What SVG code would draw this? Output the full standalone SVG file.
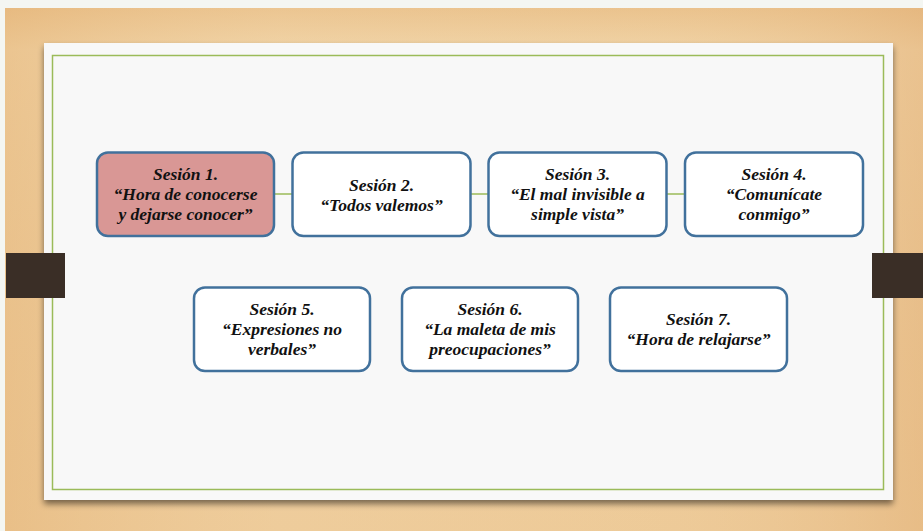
<svg xmlns="http://www.w3.org/2000/svg" width="923" height="531" viewBox="0 0 923 531">
<defs>
<linearGradient id="wood" x1="0" y1="0" x2="0" y2="1">
<stop offset="0" stop-color="#E8BD85"/>
<stop offset="0.08" stop-color="#F0D2A4"/>
<stop offset="0.5" stop-color="#EDCB9A"/>
<stop offset="1" stop-color="#ECC793"/>
</linearGradient>
<linearGradient id="woodh" x1="0" y1="0" x2="1" y2="0">
<stop offset="0" stop-color="#E6B77C" stop-opacity="0.5"/>
<stop offset="0.3" stop-color="#F3D8AE" stop-opacity="0.3"/>
<stop offset="0.7" stop-color="#F3D8AE" stop-opacity="0.2"/>
<stop offset="1" stop-color="#E3B27A" stop-opacity="0.5"/>
</linearGradient>
<filter id="shadow" x="-5%" y="-5%" width="110%" height="115%">
<feGaussianBlur in="SourceAlpha" stdDeviation="3"/>
<feOffset dx="0" dy="4" result="b"/>
<feComponentTransfer><feFuncA type="linear" slope="0.5"/></feComponentTransfer>
<feMerge><feMergeNode/><feMergeNode in="SourceGraphic"/></feMerge>
</filter>
</defs>
<style>
.node{fill:#FFFFFF;stroke:#41719C;stroke-width:2.5}
.hl{fill:#D99795}
.t{font-family:"Liberation Serif",serif;font-weight:bold;font-style:italic;font-size:17.5px;fill:#111;text-anchor:middle}
.conn{stroke:#9BBB59;stroke-width:1.5}
</style>
<rect x="0" y="0" width="923" height="531" fill="#F4F6F2"/>
<rect x="5" y="8" width="918" height="523" fill="url(#wood)"/>
<rect x="5" y="8" width="918" height="523" fill="url(#woodh)"/>
<rect x="44" y="43" width="849" height="457" fill="#F8F8F8" filter="url(#shadow)"/>
<rect x="52.5" y="55.5" width="831" height="434" fill="none" stroke="#9BBB59" stroke-width="1.5"/>
<rect x="6" y="253" width="59" height="45" fill="#3A2E26"/>
<rect x="872" y="253" width="51" height="45" fill="#3A2E26"/>
<g id="connectors">
<line class="conn" x1="274" y1="194" x2="293" y2="194"/>
<line class="conn" x1="470" y1="194" x2="488" y2="194"/>
<line class="conn" x1="666" y1="194" x2="685" y2="194"/>
</g>
<g id="n1">
<rect class="node hl" x="97" y="152.5" width="177" height="83.5" rx="11"/>
<text class="t" x="185.5" y="180">Sesión 1.</text>
<text class="t" x="185.5" y="200">“Hora de conocerse</text>
<text class="t" x="185.5" y="220">y dejarse conocer”</text>
</g>
<g id="n2">
<rect class="node" x="292.5" y="152.5" width="178" height="83.5" rx="11"/>
<text class="t" x="381.5" y="191">Sesión 2.</text>
<text class="t" x="381.5" y="211">“Todos valemos”</text>
</g>
<g id="n3">
<rect class="node" x="488.5" y="152.5" width="178" height="83.5" rx="11"/>
<text class="t" x="577.5" y="180">Sesión 3.</text>
<text class="t" x="577.5" y="200">“El mal invisible a</text>
<text class="t" x="577.5" y="220">simple vista”</text>
</g>
<g id="n4">
<rect class="node" x="685" y="152.5" width="178" height="83.5" rx="11"/>
<text class="t" x="774" y="180">Sesión 4.</text>
<text class="t" x="774" y="200">“Comunícate</text>
<text class="t" x="774" y="220">conmigo”</text>
</g>
<g id="n5">
<rect class="node" x="194" y="287.5" width="176" height="83.5" rx="11"/>
<text class="t" x="282" y="315">Sesión 5.</text>
<text class="t" x="282" y="335">“Expresiones no</text>
<text class="t" x="282" y="355">verbales”</text>
</g>
<g id="n6">
<rect class="node" x="402" y="287.5" width="176" height="83.5" rx="11"/>
<text class="t" x="490" y="315">Sesión 6.</text>
<text class="t" x="490" y="335">“La maleta de mis</text>
<text class="t" x="490" y="355">preocupaciones”</text>
</g>
<g id="n7">
<rect class="node" x="610" y="287.5" width="177" height="83.5" rx="11"/>
<text class="t" x="698.5" y="325">Sesión 7.</text>
<text class="t" x="698.5" y="345">“Hora de relajarse”</text>
</g>
</svg>
